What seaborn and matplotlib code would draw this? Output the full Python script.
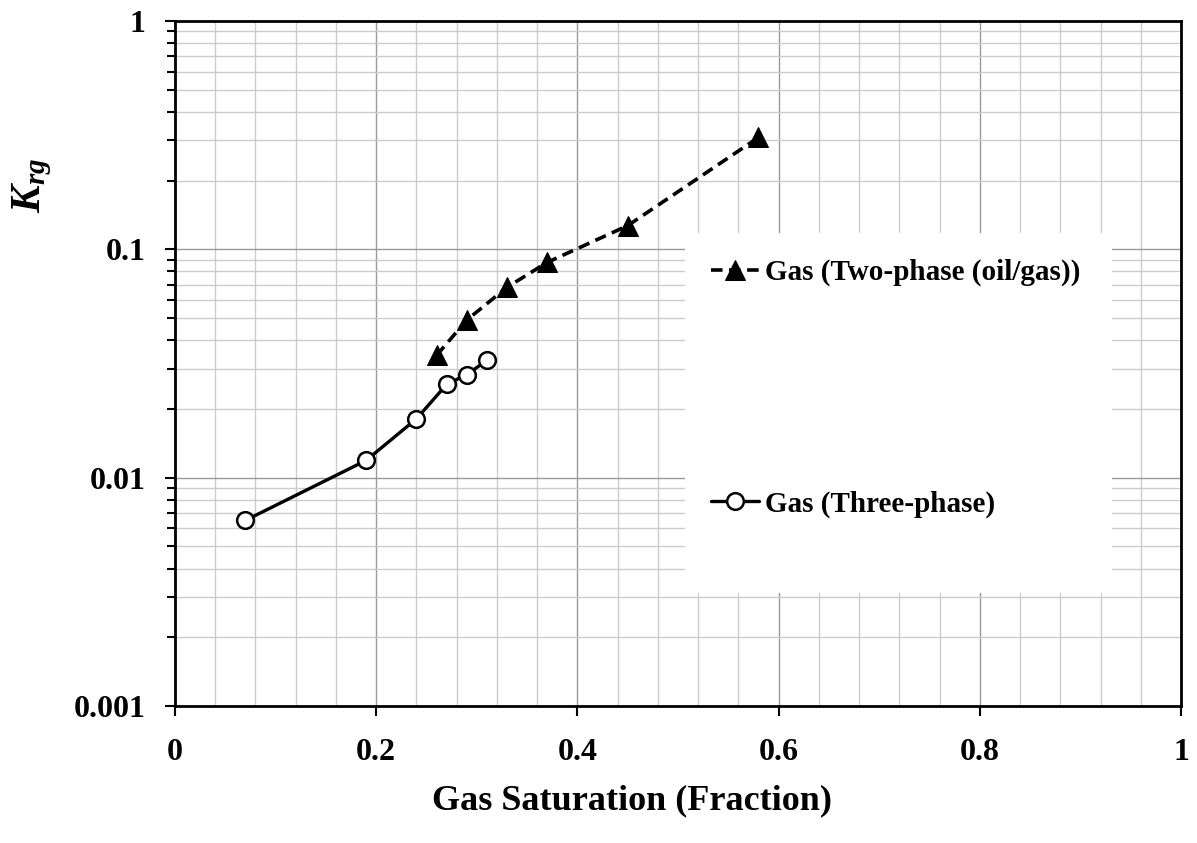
import matplotlib
matplotlib.use("Agg")
import matplotlib.pyplot as plt
import matplotlib.ticker as mticker
from matplotlib.patches import Rectangle
import seaborn as sns
import pandas as pd

# Data
two_phase_sg = [0.26, 0.29, 0.33, 0.37, 0.45, 0.58]
two_phase_krg = [0.0343, 0.0490, 0.0682, 0.0877, 0.127, 0.309]
three_phase_sg = [0.07, 0.19, 0.24, 0.27, 0.29, 0.31]
three_phase_krg = [0.0065, 0.0119, 0.0181, 0.0256, 0.0283, 0.0326]
label_two = "Gas (Two-phase (oil/gas))"
label_three = "Gas (Three-phase)"
x_ticks = [0, 0.2, 0.4, 0.6, 0.8, 1]
x_tick_labels = ["0", "0.2", "0.4", "0.6", "0.8", "1"]
y_ticks = [0.001, 0.01, 0.1, 1]
y_tick_labels = ["0.001", "0.01", "0.1", "1"]

sns.set_theme(style="white")
plt.rcParams["font.family"] = ["Liberation Serif", "DejaVu Serif"]
plt.rcParams["font.weight"] = "bold"
plt.rcParams["text.color"] = "black"
plt.rcParams["axes.labelcolor"] = "black"
plt.rcParams["xtick.color"] = "black"
plt.rcParams["ytick.color"] = "black"
plt.rcParams["mathtext.fontset"] = "custom"
plt.rcParams["mathtext.it"] = "Liberation Serif:italic:bold"
plt.rcParams["mathtext.rm"] = "Liberation Serif:bold"

fig = plt.figure(figsize=(11.97, 8.43), dpi=100)
ax = fig.add_axes([175 / 1197, 1 - 706 / 843, 1006 / 1197, 685 / 843])

df_two = pd.DataFrame({"sg": two_phase_sg, "krg": two_phase_krg})
df_three = pd.DataFrame({"sg": three_phase_sg, "krg": three_phase_krg})

sns.lineplot(data=df_two, x="sg", y="krg", ax=ax, color="black", linestyle="--",
             linewidth=2.6, dashes=False, marker="^", markersize=14,
             markerfacecolor="black", markeredgecolor="black", label=label_two,
             zorder=3)
ax.lines[-1].set_dashes((3.2, 1.8))
sns.lineplot(data=df_three, x="sg", y="krg", ax=ax, color="black", linestyle="-",
             linewidth=2.4, marker="o", markersize=12, markerfacecolor="white",
             markeredgecolor="black", markeredgewidth=1.8, label=label_three,
             zorder=3)

ax.set_yscale("log")
ax.set_xlim(0, 1)
ax.set_ylim(0.001, 1)

ax.set_xticks(x_ticks)
ax.set_xticklabels(x_tick_labels)
ax.xaxis.set_minor_locator(mticker.MultipleLocator(0.04))
ax.set_yticks(y_ticks)
ax.set_yticklabels(y_tick_labels)
ax.yaxis.set_minor_locator(mticker.LogLocator(base=10, subs=range(2, 10)))
ax.yaxis.set_minor_formatter(mticker.NullFormatter())

ax.grid(which="major", color="#9a9a9a", linewidth=1.0)
ax.grid(which="minor", color="#cccccc", linewidth=1.0)
ax.set_axisbelow(True)

for sp in ax.spines.values():
    sp.set_color("black")
    sp.set_linewidth(2.0)
    sp.set_visible(True)

ax.tick_params(axis="x", which="major", direction="out", length=7, width=1.5,
               color="black", bottom=True, pad=16, labelsize=23,
               labelcolor="black")
ax.tick_params(axis="x", which="minor", length=0)
ax.tick_params(axis="y", which="major", direction="out", length=7, width=1.5,
               color="black", left=True, pad=14, labelsize=23,
               labelcolor="black")
ax.tick_params(axis="y", which="minor", direction="out", length=6, width=1.5,
               color="black", left=True)
for lab in ax.get_xticklabels() + ax.get_yticklabels():
    lab.set_fontweight("bold")

ax.set_xlabel("Gas Saturation (Fraction)", fontsize=26, fontweight="bold",
              color="black")
ax.xaxis.set_label_coords(0.454, -0.114)
ax.set_ylabel(r"$K_{rg}$", fontsize=30, color="black")
ax.yaxis.set_label_coords(-0.12, 0.76)

# white legend area
ax.add_patch(Rectangle((510 / 1006, (706 - 593) / 685), 427 / 1006, 360 / 685,
                       transform=ax.transAxes, facecolor="white",
                       edgecolor="none", zorder=1))

leg = ax.legend(loc="upper left", bbox_to_anchor=(536 / 1006, (706 - 259) / 685),
                frameon=False, fontsize=21, labelspacing=7.0, handlelength=1.65,
                handletextpad=0.2, borderpad=0, borderaxespad=0)
for t in leg.get_texts():
    t.set_fontweight("bold")
    t.set_color("black")

fig.savefig("out.png", dpi=100, facecolor="white")
